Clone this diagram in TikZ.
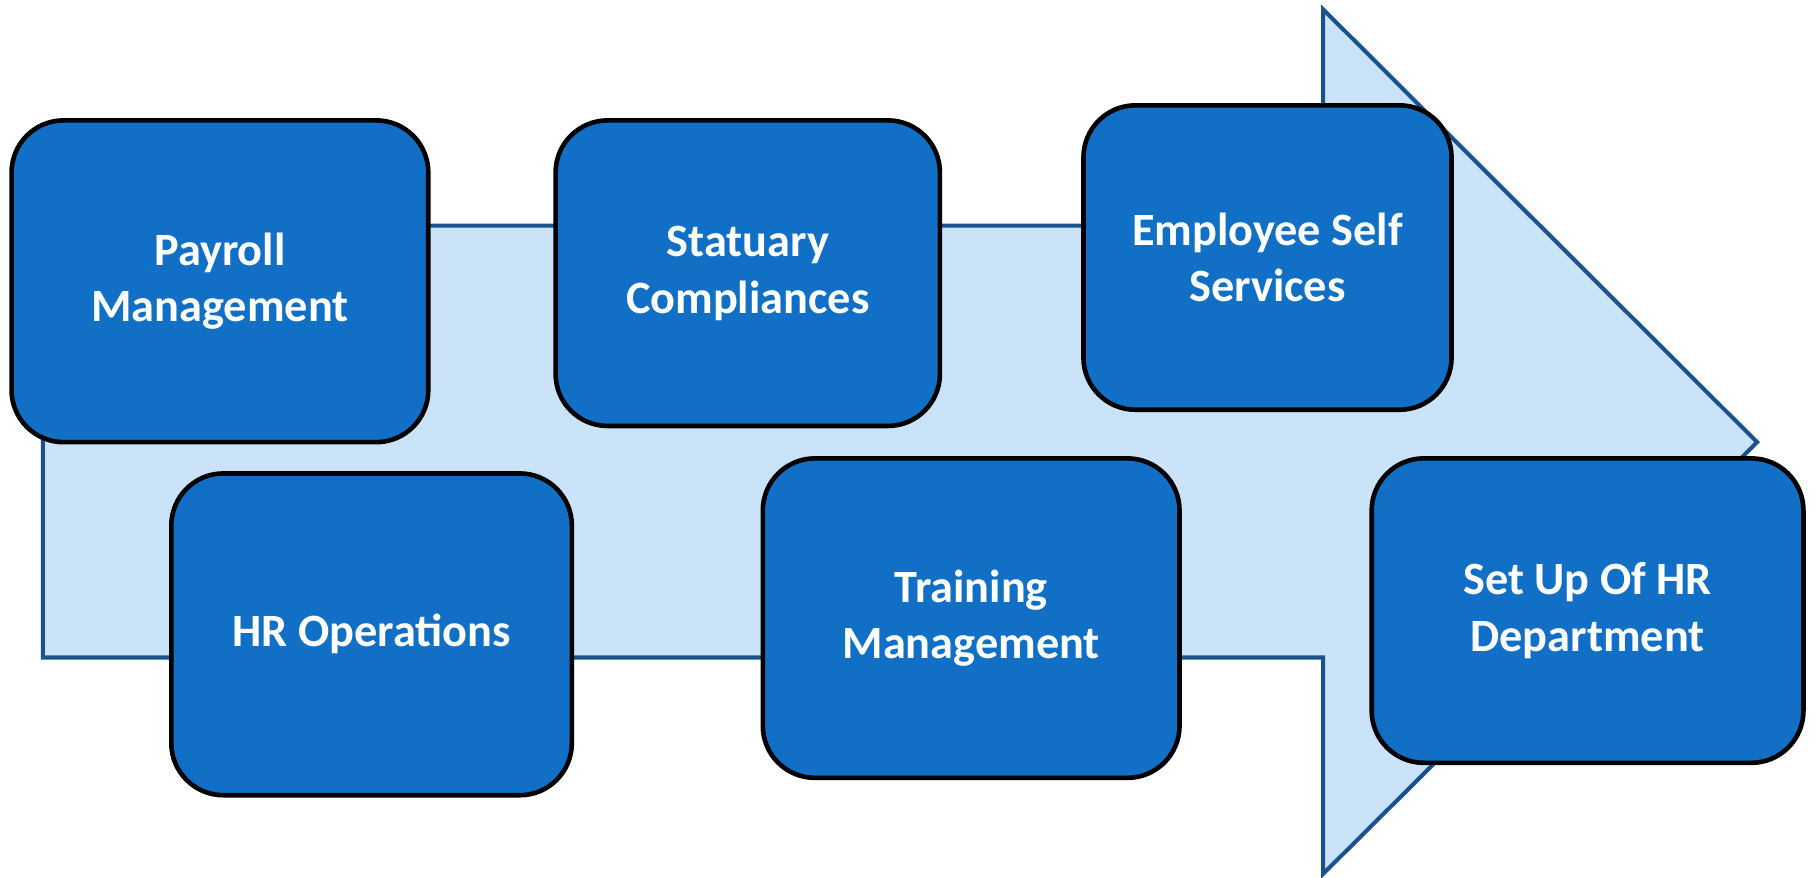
\documentclass[tikz,border=0pt]{standalone}
\usepackage{fontspec}
\setmainfont{Carlito}
\definecolor{boxblue}{RGB}{17,112,198}
\definecolor{arrowfill}{RGB}{203,227,249}
\definecolor{arrowline}{RGB}{26,82,142}
\begin{document}
\begin{tikzpicture}[x=1pt,y=-1pt,
  stepbox/.style={draw=black, line width=4pt, fill=boxblue, rounded corners=45pt,
    text=white, font=\bfseries\fontsize{40}{49}\selectfont, align=center, inner sep=0pt},
  bigarrow/.style={fill=arrowfill, draw=arrowline, line width=3.5pt}]
\useasboundingbox (0,0) rectangle (1568,758);
\draw[bigarrow] (37,195) -- (1143,195) -- (1143,8) -- (1518,382) -- (1143,755) -- (1143,568) -- (37,568) -- cycle;
\node[stepbox, minimum width=360pt, minimum height=278pt] (payroll) at (190,243) {Payroll\\Management};
\node[stepbox, minimum width=332pt, minimum height=264pt] (statuary) at (646,236) {Statuary\\Compliances};
\node[stepbox, minimum width=318pt, minimum height=263pt] (ess) at (1095,222.5) {Employee Self\\Services};
\node[stepbox, minimum width=346pt, minimum height=278pt] (hrops) at (321,548) {HR Operations};
\node[stepbox, minimum width=360pt, minimum height=276pt] (training) at (839,534) {Training\\Management};
\node[stepbox, minimum width=373pt, minimum height=263pt] (setup) at (1371.5,527.5) {Set Up Of HR\\Department};
\end{tikzpicture}
\end{document}
